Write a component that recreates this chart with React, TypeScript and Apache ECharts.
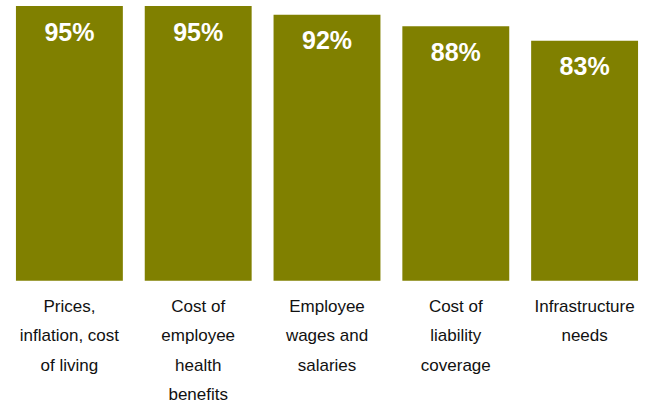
import React, { useEffect, useRef } from "react";
import * as echarts from "echarts";

const categories = [
  "Prices,\ninflation, cost\nof living",
  "Cost of\nemployee\nhealth\nbenefits",
  "Employee\nwages and\nsalaries",
  "Cost of\nliability\ncoverage",
  "Infrastructure\nneeds",
];
const values = [95, 95, 92, 88, 83];

export default function App() {
  const ref = useRef<HTMLDivElement>(null);
  useEffect(() => {
    const chart = echarts.init(ref.current!, null, { renderer: "svg" });
    chart.setOption({
      animation: false,
      grid: { left: 5, right: 3, top: 0, bottom: 124, containLabel: false },
      xAxis: {
        type: "category",
        data: categories,
        axisLine: { show: false },
        axisTick: { show: false },
        axisLabel: {
          interval: 0,
          margin: 11,
          fontFamily: "Liberation Sans, Arial, sans-serif",
          fontSize: 17,
          lineHeight: 29.3,
          color: "#111",
          verticalAlign: "top",
        },
      },
      yAxis: {
        type: "value",
        min: 0,
        max: 97.1,
        show: false,
        splitLine: { show: false },
      },
      series: [
        {
          type: "bar",
          data: values,
          barCategoryGap: "17%",
          itemStyle: { color: "#808000" },
          label: {
            show: true,
            position: "insideTop",
            distance: 13,
            formatter: "{c}%",
            color: "#fff",
            fontFamily: "Liberation Sans, Arial, sans-serif",
            fontWeight: "bold",
            fontSize: 25,
          },
        },
      ],
    });
    return () => chart.dispose();
  }, []);
  return <div ref={ref} style={{ width: 652, height: 409, position: "absolute", left: 0, top: 0 }} />;
}
